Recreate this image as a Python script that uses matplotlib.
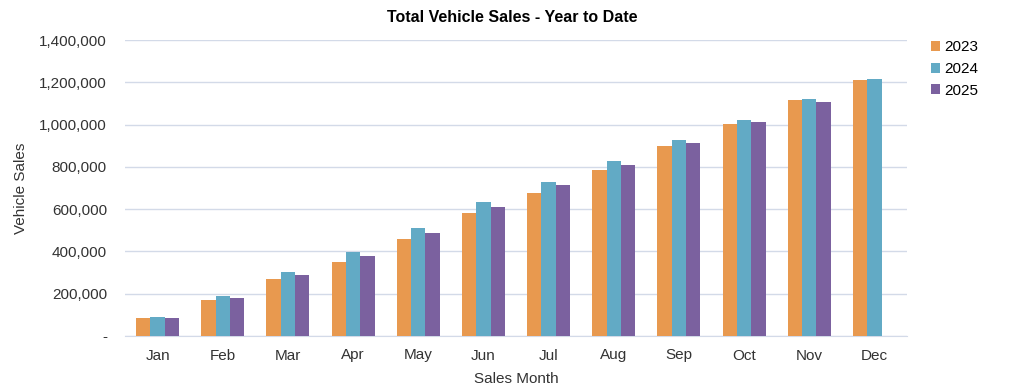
import matplotlib
matplotlib.use("Agg")
import matplotlib.pyplot as plt
import numpy as np
from matplotlib.ticker import FuncFormatter

plt.rcParams["font.family"] = ["Liberation Sans", "DejaVu Sans"]

months = ["Jan", "Feb", "Mar", "Apr", "May", "Jun", "Jul", "Aug", "Sep", "Oct", "Nov", "Dec"]
sales_2023 = [84000, 170000, 268000, 350000, 457000, 580000, 678000, 785000, 897000, 1003000, 1115000, 1212000]
sales_2024 = [90000, 190000, 303000, 399000, 512000, 632000, 730000, 826000, 925000, 1023000, 1121000, 1217000]
sales_2025 = [85000, 181000, 288000, 378000, 485000, 610000, 712000, 810000, 911000, 1011000, 1108000]
years = ["2023", "2024", "2025"]
colors = ["#E8994F", "#62AAC5", "#7B619F"]

fig = plt.figure(figsize=(10.24, 3.92), dpi=100)
ax = fig.add_axes([125 / 1024, 1 - 336 / 392, 782 / 1024, 296 / 392])

x = np.arange(len(months))
w = 0.22
for i, (vals, lab, c) in enumerate(zip([sales_2023, sales_2024, sales_2025], years, colors)):
    ax.bar(x[:len(vals)] + (i - 1) * w, vals, w, color=c, label=lab, zorder=3)

ax.set_xlim(-0.5, 11.5)
ax.set_ylim(0, 1400000)
ax.set_yticks(np.arange(0, 1400001, 200000))
ax.yaxis.set_major_formatter(FuncFormatter(lambda v, p: "-" if v == 0 else f"{int(v):,}"))
ax.set_xticks(x)
ax.set_xticklabels(months)
ax.grid(axis="y", color="#D3DAE8", linewidth=1, zorder=0)
for s in ["top", "right", "left"]:
    ax.spines[s].set_visible(False)
ax.spines["bottom"].set_color("#D3DAE8")
ax.tick_params(axis="both", length=0, labelsize=11, colors="#333333")
ax.tick_params(axis="x", pad=9)
ax.tick_params(axis="y", pad=13)

ax.set_xlabel("Sales Month", fontsize=11, color="#333333", labelpad=7)
ax.set_ylabel("Vehicle Sales", fontsize=11, color="#333333", labelpad=8)
fig.text(0.5, 0.955, "Total Vehicle Sales - Year to Date", ha="center", va="center",
         fontsize=11.5, fontweight="bold")

ax.legend(loc="upper left", bbox_to_anchor=(1.013, 1.045), frameon=False, fontsize=11,
          handlelength=0.6, handleheight=0.6, handletextpad=0.25, labelspacing=0.5)

fig.savefig("out.png", dpi=100)
plt.close(fig)
